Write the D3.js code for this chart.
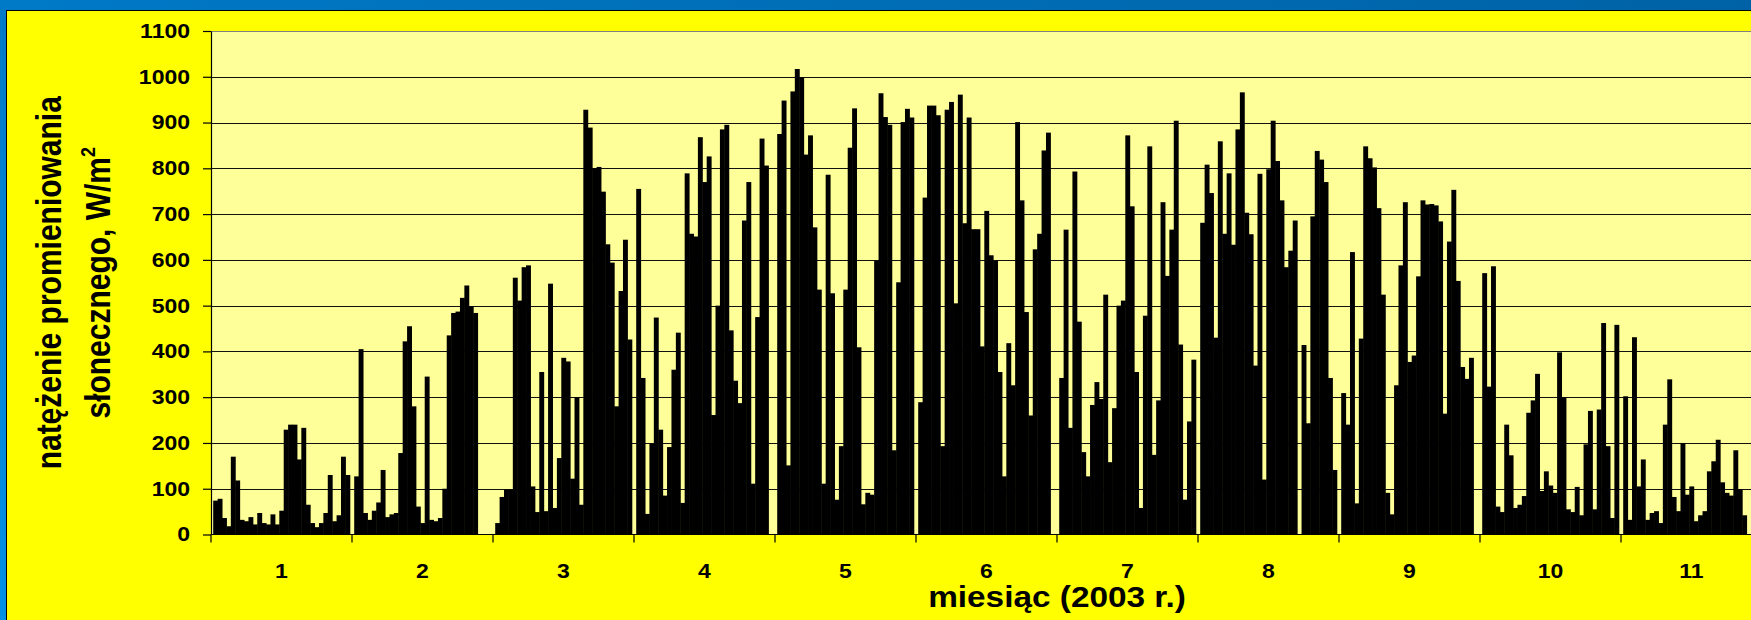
<!DOCTYPE html>
<html>
<head>
<meta charset="utf-8">
<script src="https://cdn.jsdelivr.net/npm/d3@7"></script>
<style>
  body { margin: 0; overflow: hidden; background: #0066aa; }
  svg text { font-family: Arial, "Liberation Sans", sans-serif; font-weight: bold; fill: #000; }
</style>
</head>
<body>
<svg id="chart" width="1751" height="620"></svg>
<script>
// daily values, W/m2 (31 slots per month)
const jan = [74, 78, 36, 18, 170, 118, 32, 29, 38, 22, 47, 25, 22, 44, 22, 52, 229, 240, 240, 164, 233, 65, 25, 16, 25, 47, 130, 29, 42, 170, 130];
const feb = [127, 405, 47, 32, 52, 70, 141, 38, 44, 47, 178, 422, 455, 280, 61, 25, 345, 32, 29, 36, 100, 435, 484, 487, 517, 544, 499, 484];
const mar = [25, 82, 98, 98, 561, 511, 584, 588, 105, 49, 355, 51, 548, 58, 167, 386, 378, 122, 300, 65, 928, 889, 800, 803, 749, 634, 594, 280, 532, 644, 426];
const apr = [755, 342, 45, 198, 474, 229, 85, 191, 360, 441, 69, 789, 657, 651, 868, 770, 826, 261, 500, 885, 895, 446, 336, 287, 686, 770, 111, 475, 865, 806];
const may = [875, 948, 151, 968, 1017, 999, 830, 872, 671, 535, 111, 786, 527, 76, 193, 535, 845, 931, 409, 66, 91, 87, 598, 964, 912, 895, 184, 551, 901, 930, 911];
const jun = [289, 736, 937, 937, 916, 193, 928, 945, 505, 961, 680, 911, 667, 667, 411, 707, 610, 598, 355, 127, 418, 326, 901, 730, 486, 260, 623, 657, 839, 878];
const jul = [342, 666, 233, 793, 465, 180, 127, 283, 333, 296, 524, 158, 276, 500, 511, 872, 717, 355, 58, 478, 848, 174, 293, 726, 565, 666, 904, 415, 76, 247, 382];
const aug = [681, 808, 746, 430, 859, 657, 789, 633, 885, 966, 703, 656, 369, 788, 120, 798, 904, 816, 730, 584, 620, 686, null, 414, 243, 695, 838, 819, 770, 342, 141];
const sep = [309, 240, 617, 68, 428, 848, 822, 802, 713, 524, 91, 44, 326, 588, 726, 377, 391, 564, 730, 721, 722, 719, 684, 264, 640, 753, 554, 366, 340, 386];
const oct = [571, 323, 586, 61, 49, 240, 173, 58, 65, 84, 266, 293, 351, 95, 138, 107, 91, 398, 300, 55, 49, 104, 42, 197, 270, 55, 273, 462, 193, 36, 458];
const nov = [302, 32, 431, 105, 164, 32, 47, 51, 25, 240, 339, 82, 51, 200, 87, 105, 29, 42, 51, 138, 160, 207, 114, 91, 85, 184, 98, 42];

const monthLabels = ['1', '2', '3', '4', '5', '6', '7', '8', '9', '10', '11', '12'];
const yTicks = [0, 100, 200, 300, 400, 500, 600, 700, 800, 900, 1000, 1100];
const series = [jan, feb, mar, apr, may, jun, jul, aug, sep, oct, nov];

const W = 1751, H = 620;
const svg = d3.select('#chart');
const sx = 1.15; // the picture is stretched sideways, text too

// background
const defs = svg.append('defs');
const grad = defs.append('linearGradient').attr('id', 'bg')
    .attr('x1', 1).attr('y1', 0).attr('x2', 0).attr('y2', 1);
grad.append('stop').attr('offset', 0).attr('stop-color', '#0062a6');
grad.append('stop').attr('offset', 1).attr('stop-color', '#0090e6');
svg.append('rect').attr('width', W).attr('height', H).attr('fill', 'url(#bg)');

svg.append('rect')
    .attr('x', 6.5).attr('y', 10.5)
    .attr('width', 1800).attr('height', 700)
    .attr('fill', '#ffff00')
    .attr('stroke', '#000').attr('stroke-width', 1);

// scales
const left = 211, monthW = 141;
const y = d3.scaleLinear().domain([0, 1100]).range([534.5, 31]);
const xMonth = d3.scaleBand().domain(monthLabels).range([left, left + monthW * monthLabels.length]);
const xDay = d3.scaleBand().domain(d3.range(31)).range([0, xMonth.bandwidth()])
    .paddingInner(0).paddingOuter(0.5);

// plot area
svg.append('rect')
    .attr('x', left).attr('y', y(1100))
    .attr('width', xMonth.range()[1] - left).attr('height', y(0) - y(1100))
    .attr('fill', '#ffff99');

svg.append('g').selectAll('line')
    .data(yTicks.filter(d => d > 0))
    .join('line')
    .attr('x1', left).attr('x2', xMonth.range()[1])
    .attr('y1', d => Math.round(y(d)) + 0.5).attr('y2', d => Math.round(y(d)) + 0.5)
    .attr('stroke', d => d === 1100 ? '#808080' : '#111')
    .attr('stroke-width', 1.2);

// bars
const bars = [];
series.forEach((vals, mi) => {
    vals.forEach((v, di) => {
        if (v != null) bars.push({ m: monthLabels[mi], d: di, v: v });
    });
});

svg.append('g').selectAll('rect')
    .data(bars)
    .join('rect')
    .attr('x', d => xMonth(d.m) + xDay(d.d))
    .attr('width', xDay.bandwidth() + 0.5)
    .attr('y', d => y(d.v))
    .attr('height', d => y(0) - y(d.v))
    .attr('fill', '#000');

// y axis
const yAxis = svg.append('g')
    .attr('transform', `translate(${left},0)`)
    .call(d3.axisLeft(y).tickValues(yTicks).tickFormat(d3.format('d'))
        .tickSize(8).tickSizeOuter(0).tickPadding(21 / sx - 8));
yAxis.attr('font-family', null).attr('font-size', null);
yAxis.select('.domain').attr('stroke', '#000').attr('stroke-width', 1.2);
yAxis.selectAll('.tick line').attr('stroke', '#000').attr('stroke-width', 1.2);
yAxis.selectAll('.tick text')
    .style('font-size', '20px')
    .attr('transform', `scale(${sx},1)`);

// x axis
svg.append('line')
    .attr('x1', left).attr('x2', xMonth.range()[1])
    .attr('y1', y(0)).attr('y2', y(0))
    .attr('stroke', '#000').attr('stroke-width', 1.2);

const bounds = monthLabels.map(m => xMonth(m)).concat([xMonth.range()[1]]);
svg.append('g').selectAll('line')
    .data(bounds)
    .join('line')
    .attr('x1', d => d).attr('x2', d => d)
    .attr('y1', y(0)).attr('y2', y(0) + 8)
    .attr('stroke', '#000').attr('stroke-width', 1.2);

// only the month labels that fall inside the picture
svg.append('g').selectAll('text')
    .data(monthLabels.filter(m => xMonth(m) + xMonth.bandwidth() / 2 < W - 20))
    .join('text')
    .attr('transform', d => `translate(${xMonth(d) + xMonth.bandwidth() / 2},578) scale(${sx},1)`)
    .attr('text-anchor', 'middle')
    .style('font-size', '20px')
    .text(d => d);

// axis titles
svg.append('text')
    .attr('transform', `translate(${(xMonth.range()[0] + xMonth.range()[1]) / 2},607) scale(${sx},1)`)
    .attr('text-anchor', 'middle')
    .style('font-size', '29px')
    .text('miesiąc (2003 r.)');

const midY = (y(0) + y(1100)) / 2;
svg.append('text')
    .attr('transform', `translate(61,${midY}) scale(${sx},1) rotate(-90)`)
    .attr('text-anchor', 'middle')
    .style('font-size', '30px')
    .text('natężenie promieniowania');

const t2 = svg.append('text')
    .attr('transform', `translate(110,${midY}) scale(${sx},1) rotate(-90)`)
    .attr('text-anchor', 'middle')
    .style('font-size', '30px');
t2.append('tspan').text('słonecznego, W/m');
t2.append('tspan').attr('dy', -13).style('font-size', '18px').text('2');
</script>
</body>
</html>
